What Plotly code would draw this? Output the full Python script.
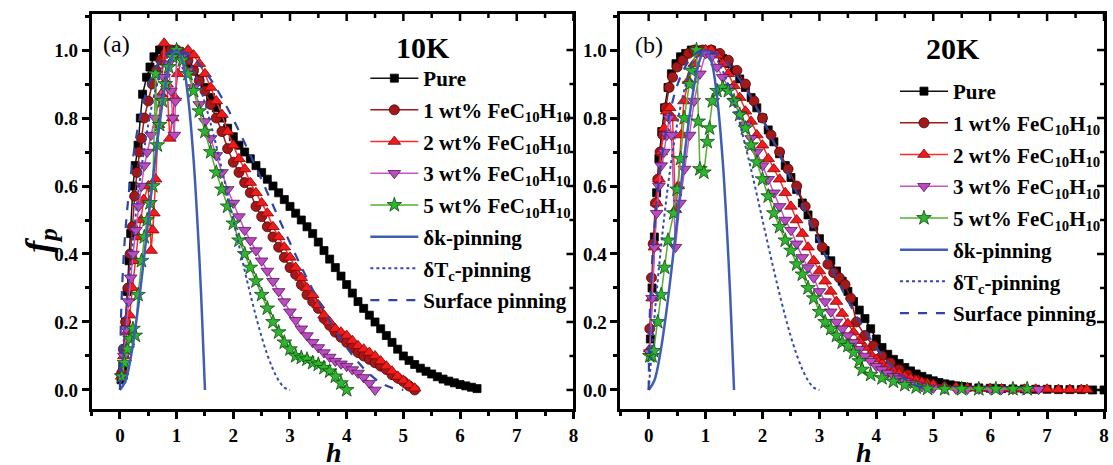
import plotly.graph_objects as go

W, H = 1113, 465

# ---------------- Panel (a) 10K ----------------
pure10_h = [0.02,0.05,0.08,0.1,0.13,0.16,0.19,0.23,0.27,0.32,0.36,0.4,0.47,0.53,0.6,0.7,0.8,0.9,
            1.0,1.1,1.2,1.3,1.4,1.5,1.6,1.7,1.8,1.9,2.0,2.1,2.2,2.3,2.4,2.5,2.6,2.7,2.8,2.9,3.0,
            3.1,3.2,3.3,3.4,3.5,3.6,3.7,3.8,3.9,4.0,4.1,4.2,4.3,4.4,4.5,4.6,4.7,4.8,4.9,5.0,5.1,
            5.2,5.3,5.4,5.5,5.6,5.7,5.8,5.9,6.0,6.1,6.2,6.3]
pure10_fp = [0.03,0.07,0.12,0.2,0.29,0.38,0.46,0.6,0.66,0.72,0.8,0.87,0.92,0.95,0.98,1.0,1.0,1.0,
             0.99,0.98,0.96,0.94,0.915,0.89,0.86,0.83,0.8,0.77,0.745,0.72,0.7,0.68,0.66,0.64,0.62,0.6,0.58,0.56,0.54,
             0.52,0.5,0.48,0.46,0.435,0.41,0.385,0.36,0.335,0.31,0.285,0.26,0.24,0.22,0.2,0.18,0.16,0.14,0.12,0.1,0.087,
             0.075,0.064,0.055,0.047,0.039,0.032,0.026,0.021,0.016,0.012,0.008,0.004]

wt1_10_h = [0.03,0.06,0.1,0.14,0.18,0.22,0.26,0.3,0.34,0.38,0.43,0.5,0.57,0.64,0.72,0.8,0.9,
            1.0,1.1,1.2,1.3,1.4,1.5,1.6,1.7,1.8,1.9,2.0,2.1,2.2,2.3,2.4,2.5,2.6,2.7,2.8,2.9,3.0,
            3.1,3.2,3.3,3.4,3.5,3.6,3.7,3.8,3.9,4.0,4.1,4.2,4.3,4.4,4.5,4.6,4.7,4.8,4.9,5.0,5.1,5.2]
wt1_10_fp = [0.05,0.12,0.2,0.3,0.4,0.48,0.57,0.64,0.7,0.74,0.8,0.85,0.9,0.94,0.97,0.99,1.0,
             1.0,0.99,0.97,0.94,0.91,0.88,0.84,0.8,0.76,0.71,0.67,0.64,0.61,0.58,0.54,0.51,0.48,0.45,0.42,0.39,0.36,
             0.34,0.31,0.28,0.26,0.24,0.21,0.19,0.17,0.155,0.14,0.125,0.11,0.1,0.09,0.08,0.07,0.06,0.045,0.035,0.025,0.012,0.0]

wt2_10_h = [0.03,0.07,0.12,0.17,0.22,0.27,0.32,0.37,0.42,0.5,0.55,0.58,0.6,0.63,0.68,0.73,0.78,0.83,0.88,
            0.93,0.97,1.02,1.1,1.2,1.3,1.4,1.5,1.6,1.7,1.8,1.9,2.0,2.1,2.2,2.3,2.4,2.5,2.6,2.7,2.8,2.9,3.0,
            3.1,3.2,3.3,3.4,3.5,3.6,3.7,3.8,3.9,4.0,4.1,4.2,4.3,4.4,4.5,4.6,4.7,4.8,4.9,5.0,5.1,5.2]
wt2_10_fp = [0.04,0.1,0.17,0.22,0.3,0.38,0.45,0.5,0.56,0.6,0.41,0.47,0.52,0.62,0.78,0.87,1.02,0.9,0.74,
             0.8,0.86,0.93,0.98,1.0,0.985,0.96,0.93,0.89,0.85,0.81,0.76,0.72,0.68,0.65,0.61,0.58,0.55,0.52,0.48,0.45,0.42,0.39,
             0.36,0.33,0.3,0.28,0.25,0.22,0.2,0.18,0.17,0.16,0.145,0.13,0.12,0.11,0.1,0.085,0.07,0.055,0.04,0.028,0.015,0.005]

wt3_10_h = [0.03,0.07,0.11,0.15,0.19,0.23,0.28,0.33,0.38,0.43,0.48,0.55,0.62,0.7,0.78,0.85,0.9,0.93,0.96,0.98,
            1.0,1.1,1.2,1.3,1.4,1.5,1.6,1.7,1.8,1.9,2.0,2.1,2.2,2.3,2.4,2.5,2.6,2.7,2.8,2.9,3.0,
            3.1,3.2,3.3,3.4,3.5,3.6,3.7,3.8,3.9,4.0,4.1,4.2,4.3,4.4,4.5]
wt3_10_fp = [0.04,0.1,0.18,0.26,0.33,0.4,0.47,0.54,0.6,0.66,0.7,0.75,0.8,0.86,0.92,0.96,0.88,0.8,0.75,0.85,
             1.0,0.98,0.94,0.89,0.84,0.79,0.74,0.69,0.64,0.59,0.55,0.51,0.47,0.44,0.41,0.38,0.35,0.32,0.29,0.26,0.23,
             0.205,0.18,0.16,0.14,0.125,0.11,0.097,0.085,0.077,0.07,0.06,0.05,0.037,0.02,0.0]

wt5_10_h = [0.03,0.08,0.13,0.18,0.23,0.27,0.32,0.38,0.43,0.48,0.53,0.58,0.63,0.66,0.7,0.75,0.8,0.86,0.93,
            1.0,1.1,1.2,1.3,1.4,1.5,1.6,1.7,1.8,1.9,2.0,2.1,2.2,2.3,2.4,2.5,2.6,2.7,2.8,2.9,3.0,
            3.1,3.2,3.3,3.4,3.5,3.6,3.7,3.8,3.9,4.0]
wt5_10_fp = [0.04,0.08,0.12,0.15,0.18,0.16,0.28,0.38,0.45,0.5,0.55,0.6,0.93,0.72,0.78,0.85,0.9,0.95,0.98,
             1.0,0.97,0.93,0.88,0.82,0.76,0.7,0.64,0.59,0.54,0.49,0.44,0.4,0.36,0.32,0.28,0.24,0.2,0.17,0.14,0.12,
             0.1,0.095,0.09,0.08,0.075,0.065,0.055,0.04,0.02,0.0]

# ---------------- Panel (b) 20K ----------------
pure20_h = [0.03,0.06,0.1,0.14,0.18,0.23,0.28,0.34,0.4,0.48,0.56,0.65,0.75,0.85,0.95,
            1.1,1.2,1.3,1.4,1.5,1.6,1.7,1.8,1.9,2.0,2.1,2.2,2.3,2.4,2.5,2.6,2.7,2.8,2.9,3.0,
            3.1,3.2,3.3,3.4,3.5,3.6,3.7,3.8,3.9,4.0,4.1,4.2,4.3,4.4,4.5,4.6,4.7,4.8,4.9,5.0,
            5.1,5.2,5.3,5.4,5.5,5.6,5.8,6.0,6.2,6.4,6.6,6.8,7.0,7.2,7.4,7.6,7.8,8.0]
pure20_fp = [0.15,0.3,0.45,0.58,0.68,0.76,0.83,0.89,0.93,0.96,0.98,0.99,1.0,1.0,1.0,
             1.0,0.99,0.975,0.96,0.94,0.915,0.89,0.86,0.83,0.8,0.765,0.73,0.695,0.66,0.625,0.59,0.55,0.515,0.48,0.445,
             0.41,0.38,0.35,0.32,0.29,0.26,0.235,0.21,0.18,0.15,0.125,0.105,0.09,0.078,0.066,0.056,0.047,0.04,0.033,0.027,
             0.022,0.018,0.015,0.012,0.01,0.008,0.006,0.005,0.004,0.003,0.003,0.002,0.002,0.001,0.001,0.001,0.0,0.0]

wt1_20_h = [0.02,0.05,0.08,0.12,0.16,0.2,0.25,0.3,0.36,0.42,0.5,0.6,0.7,0.8,0.95,
            1.1,1.25,1.4,1.55,1.7,1.85,2.0,2.15,2.3,2.45,2.6,2.75,2.9,3.05,3.15,3.25,3.35,3.45,3.55,
            3.65,3.8,3.95,4.1,4.25,4.4,4.55,4.7,4.85,5.0]
wt1_20_fp = [0.18,0.33,0.43,0.55,0.62,0.7,0.75,0.83,0.89,0.92,0.95,0.97,0.99,1.0,1.0,
             1.0,0.99,0.97,0.94,0.9,0.85,0.8,0.75,0.7,0.65,0.6,0.54,0.49,0.42,0.37,0.345,0.33,0.31,0.27,
             0.2,0.16,0.13,0.1,0.08,0.06,0.045,0.03,0.02,0.012]

wt2_20_h = [0.02,0.06,0.1,0.14,0.18,0.22,0.27,0.32,0.37,0.42,0.47,0.52,0.57,0.62,0.7,0.8,0.9,1.0,
            1.1,1.2,1.3,1.4,1.5,1.6,1.7,1.8,1.9,2.0,2.1,2.2,2.3,2.4,2.5,2.6,2.7,2.8,2.9,3.0,
            3.1,3.2,3.3,3.4,3.5,3.6,3.7,3.8,3.9,4.0,4.1,4.2,4.3,4.4,4.5,4.6,4.7,4.8,4.9,5.0,
            5.2,5.4,5.6,5.8,6.0,6.2,6.4,6.6,6.8,7.0,7.2,7.4,7.6,7.7]
wt2_20_fp = [0.12,0.27,0.42,0.55,0.62,0.7,0.77,0.82,0.83,0.8,0.53,0.6,0.75,0.85,0.91,0.96,0.99,1.0,
             1.0,0.985,0.96,0.93,0.895,0.86,0.82,0.79,0.75,0.72,0.68,0.65,0.62,0.58,0.54,0.5,0.46,0.42,0.38,0.35,
             0.32,0.29,0.26,0.225,0.195,0.17,0.145,0.125,0.105,0.09,0.077,0.066,0.056,0.048,0.04,0.034,0.028,0.023,0.019,0.016,
             0.011,0.008,0.006,0.005,0.004,0.003,0.003,0.002,0.002,0.002,0.001,0.001,0.001,0.001]

wt3_20_h = [0.02,0.06,0.1,0.14,0.18,0.22,0.27,0.32,0.36,0.4,0.47,0.55,0.63,0.72,0.8,0.9,1.0,
            1.1,1.2,1.3,1.4,1.5,1.6,1.7,1.8,1.9,2.0,2.1,2.2,2.3,2.4,2.5,2.6,2.7,2.8,2.9,3.0,
            3.1,3.2,3.3,3.4,3.5,3.6,3.7,3.8,3.9,4.0,4.1,4.2,4.3,4.4,4.5,4.6,4.7,4.8,5.0,
            5.2,5.4,5.6,5.8,6.0,6.2,6.4,6.6,6.85]
wt3_20_fp = [0.11,0.27,0.42,0.52,0.6,0.66,0.7,0.75,0.8,0.75,0.42,0.55,0.65,0.75,0.85,0.93,0.99,
             0.98,0.95,0.92,0.89,0.85,0.81,0.78,0.74,0.7,0.66,0.62,0.58,0.54,0.5,0.47,0.43,0.39,0.36,0.33,0.29,
             0.26,0.23,0.2,0.18,0.16,0.14,0.12,0.1,0.085,0.07,0.06,0.05,0.04,0.033,0.026,0.02,0.015,0.01,0.006,
             0.004,0.003,0.003,0.003,0.003,0.002,0.002,0.002,0.002]

wt5_20_h = [0.02,0.06,0.09,0.16,0.22,0.28,0.34,0.44,0.5,0.56,0.625,0.72,0.75,0.84,0.87,0.9,0.97,1.03,1.07,
            1.12,1.2,1.3,1.4,1.5,1.6,1.7,1.8,1.9,2.0,2.1,2.2,2.3,2.4,2.5,2.6,2.7,2.8,2.9,3.0,
            3.1,3.2,3.3,3.4,3.5,3.6,3.7,3.75,3.9,4.1,4.3,4.5,4.7,4.9,5.2,5.5,5.8,6.1,6.4,6.65]
wt5_20_fp = [0.1,0.1,0.115,0.2,0.28,0.36,0.44,0.52,0.59,0.68,0.8,0.9,0.94,1.0,0.79,0.65,0.64,0.73,0.77,
             0.85,0.88,0.89,0.88,0.85,0.81,0.77,0.72,0.67,0.62,0.57,0.52,0.48,0.44,0.41,0.37,0.34,0.3,0.27,0.23,
             0.2,0.18,0.16,0.14,0.13,0.11,0.085,0.06,0.045,0.035,0.025,0.015,0.008,0.004,0.003,0.003,0.003,0.003,0.003,0.003]

# ---------------- Pinning models ----------------
dk_h = [0,0.1,0.2,0.3,0.4,0.5,0.6,0.7,0.8,0.9,1.0,1.1,1.2,1.3,1.4,1.45,1.5]
dk_fp = [0,0.028,0.104,0.216,0.352,0.5,0.648,0.784,0.896,0.972,1.0,0.968,0.864,0.676,0.392,0.21,0.0]

dtc_h = [0,0.1,0.2,0.3,0.4,0.5,0.6,0.7,0.8,0.9,1.0,1.1,1.2,1.3,1.4,1.5,1.6,1.7,1.8,1.9,2.0,
         2.1,2.2,2.3,2.4,2.5,2.6,2.7,2.8,2.9,3.0]
dtc_fp = [0,0.21,0.392,0.547,0.676,0.781,0.864,0.926,0.968,0.992,1.0,0.993,0.972,0.939,0.896,0.844,0.784,
          0.718,0.648,0.575,0.5,0.425,0.352,0.282,0.216,0.156,0.104,0.061,0.028,0.007,0.0]

surf_h = [0,0.02,0.05,0.1,0.2,0.3,0.4,0.5,0.6,0.7,0.8,0.9,1.0,1.2,1.4,1.6,1.8,2.0,2.2,2.4,2.6,2.8,
          3.0,3.2,3.4,3.6,3.8,4.0,4.2,4.4,4.6,4.8,5.0]
surf_fp = [0,0.219,0.342,0.475,0.644,0.756,0.836,0.895,0.937,0.967,0.986,0.997,1.0,0.989,0.958,0.914,0.859,
           0.796,0.727,0.655,0.581,0.506,0.433,0.362,0.295,0.232,0.175,0.125,0.082,0.047,0.021,0.006,0.0]

# tick positions for the frame (major; minor ones sit halfway between)
x_major = [0, 1, 2, 3, 4, 5, 6, 7, 8]
y_major = [0.0, 0.2, 0.4, 0.6, 0.8, 1.0]

panels = [
    dict(xa="x", ya="y", legend="legend",
         data=[(pure10_h, pure10_fp), (wt1_10_h, wt1_10_fp), (wt2_10_h, wt2_10_fp),
               (wt3_10_h, wt3_10_fp), (wt5_10_h, wt5_10_fp)]),
    dict(xa="x2", ya="y2", legend="legend2",
         data=[(pure20_h, pure20_fp), (wt1_20_h, wt1_20_fp), (wt2_20_h, wt2_20_fp),
               (wt3_20_h, wt3_20_fp), (wt5_20_h, wt5_20_fp)]),
]

series_names = ["Pure", "1 wt% FeC<sub>10</sub>H<sub>10</sub>", "2 wt% FeC<sub>10</sub>H<sub>10</sub>",
                "3 wt% FeC<sub>10</sub>H<sub>10</sub>", "5 wt% FeC<sub>10</sub>H<sub>10</sub>"]
series_style = [
    dict(line="#111111", fill="#000000", edge="#000000", symbol="square", size=8),
    dict(line="#9b1b1b", fill="#a31919", edge="#4a0505", symbol="circle", size=10),
    dict(line="#ff2a2a", fill="#ee1c1c", edge="#8a0000", symbol="triangle-up", size=11),
    dict(line="#c455c4", fill="#b94cc0", edge="#5a105a", symbol="triangle-down", size=11),
    dict(line="#55b030", fill="#2fb52f", edge="#0b4d0b", symbol="star", size=11),
]
model_names = ["δk-pinning", "δT<sub>c</sub>-pinning", "Surface pinning"]
model_data = [(dk_h, dk_fp), (dtc_h, dtc_fp), (surf_h, surf_fp)]
model_style = [dict(color="#3f5db5", dash="solid", width=2.5),
               dict(color="#3448b0", dash="dot", width=2),
               dict(color="#2e44a8", dash="dash", width=2.2)]

FONT = "Liberation Serif"
xr = [-0.5, 8]
yr = [-0.056, 1.106]
xdom_a = [92 / W, 576 / W]
xdom_b = [623 / W, 1109 / W]
ydom = [1 - 409 / H, 1 - 14 / H]
TICKW = 2.5
MAJ, MIN = 7, 4

fig = go.Figure()
for p in panels:
    for i, (hx, fy) in enumerate(p["data"]):
        s = series_style[i]
        fig.add_trace(go.Scatter(
            x=hx, y=fy, mode="lines+markers", name=series_names[i],
            xaxis=p["xa"], yaxis=p["ya"], legend=p["legend"], legendgroup=p["legend"] + str(i),
            line=dict(color=s["line"], width=1.5),
            marker=dict(symbol=s["symbol"], size=s["size"], color=s["fill"],
                        line=dict(color=s["edge"], width=0.8))))
    for j, (hx, fy) in enumerate(model_data):
        m = model_style[j]
        fig.add_trace(go.Scatter(
            x=hx, y=fy, mode="lines", name=model_names[j], line_shape="spline",
            xaxis=p["xa"], yaxis=p["ya"], legend=p["legend"], legendgroup=p["legend"] + "m" + str(j),
            line=dict(color=m["color"], dash=m["dash"], width=m["width"])))

# inside tick marks on the top and right frame edges (mirrored ticks)
for p in panels:
    for k, xv in enumerate(x_major):
        fig.add_shape(type="line", xref=p["xa"], yref="paper", x0=xv, x1=xv,
                      y0=ydom[1], y1=ydom[1] - MAJ / H, line=dict(color="black", width=TICKW))
        if k < len(x_major) - 1:
            xm = (x_major[k] + x_major[k + 1]) / 2
            fig.add_shape(type="line", xref=p["xa"], yref="paper", x0=xm, x1=xm,
                          y0=ydom[1], y1=ydom[1] - MIN / H, line=dict(color="black", width=TICKW))
    xd = xdom_a if p["xa"] == "x" else xdom_b
    for k, yv in enumerate(y_major):
        fig.add_shape(type="line", xref="paper", yref=p["ya"], x0=xd[1], x1=xd[1] - MAJ / W,
                      y0=yv, y1=yv, line=dict(color="black", width=TICKW))
        if k < len(y_major) - 1:
            ym = (y_major[k] + y_major[k + 1]) / 2
            fig.add_shape(type="line", xref="paper", yref=p["ya"], x0=xd[1], x1=xd[1] - MIN / W,
                          y0=ym, y1=ym, line=dict(color="black", width=TICKW))

tickfont = dict(family=FONT, size=19, color="black", weight="bold")


def main_x(dom, anchor):
    return dict(domain=dom, anchor=anchor, range=xr, tickvals=x_major, ticks="outside", ticklen=MAJ,
                tickwidth=TICKW, tickcolor="black", showline=True, linewidth=2.5, linecolor="black",
                mirror=True, showgrid=False, zeroline=False, tickfont=tickfont,
                minor=dict(dtick=0.5, tick0=0, ticks="outside", ticklen=MIN, tickwidth=TICKW, tickcolor="black"))


def main_y(anchor):
    return dict(domain=ydom, anchor=anchor, range=yr, tickvals=y_major, tickformat=".1f",
                ticks="outside", ticklen=MAJ, tickwidth=TICKW, tickcolor="black", showline=True,
                linewidth=2.5, linecolor="black", mirror=True, showgrid=False, zeroline=False,
                tickfont=tickfont,
                minor=dict(dtick=0.1, tick0=0, ticks="outside", ticklen=MIN, tickwidth=TICKW, tickcolor="black"))


legfont = dict(family=FONT, size=21, color="black", weight="bold")
fig.update_layout(
    width=W, height=H, margin=dict(l=0, r=0, t=0, b=0),
    paper_bgcolor="white", plot_bgcolor="white", showlegend=True,
    xaxis=main_x(xdom_a, "y"), yaxis=main_y("x"),
    xaxis2=main_x(xdom_b, "y2"), yaxis2=main_y("x2"),
    legend=dict(x=367 / W, y=1 - 58 / H, xanchor="left", yanchor="top", bgcolor="rgba(0,0,0,0)",
                font=legfont, tracegroupgap=1.4, traceorder="grouped", itemwidth=48),
    legend2=dict(x=899 / W, y=1 - 71 / H, xanchor="left", yanchor="top", bgcolor="rgba(0,0,0,0)",
                 font=legfont, tracegroupgap=1.4, traceorder="grouped", itemwidth=48),
)

annots = [
    dict(text="10K", x=425 / W, y=1 - 47 / H, font=dict(family=FONT, size=30, weight="bold")),
    dict(text="20K", x=957 / W, y=1 - 48 / H, font=dict(family=FONT, size=30, weight="bold")),
    dict(text="(a)", x=101 / W, y=1 - 44 / H, xanchor="left", font=dict(family=FONT, size=24)),
    dict(text="(b)", x=636 / W, y=1 - 45 / H, xanchor="left", font=dict(family=FONT, size=24)),
    dict(text="h", x=336 / W, y=1 - 452 / H,
         font=dict(family=FONT, size=28, weight="bold", style="italic")),
    dict(text="h", x=868 / W, y=1 - 452 / H,
         font=dict(family=FONT, size=28, weight="bold", style="italic")),
    dict(text="f<sub>p</sub>", x=40 / W, y=1 - 240 / H, textangle=-90,
         font=dict(family=FONT, size=36, weight="bold", style="italic")),
]
for a in annots:
    a.setdefault("xanchor", "center")
    a.setdefault("yanchor", "middle")
    a.update(xref="paper", yref="paper", showarrow=False)
    a["font"]["color"] = "black"
fig.update_layout(annotations=annots)

fig.write_html("out.html")
